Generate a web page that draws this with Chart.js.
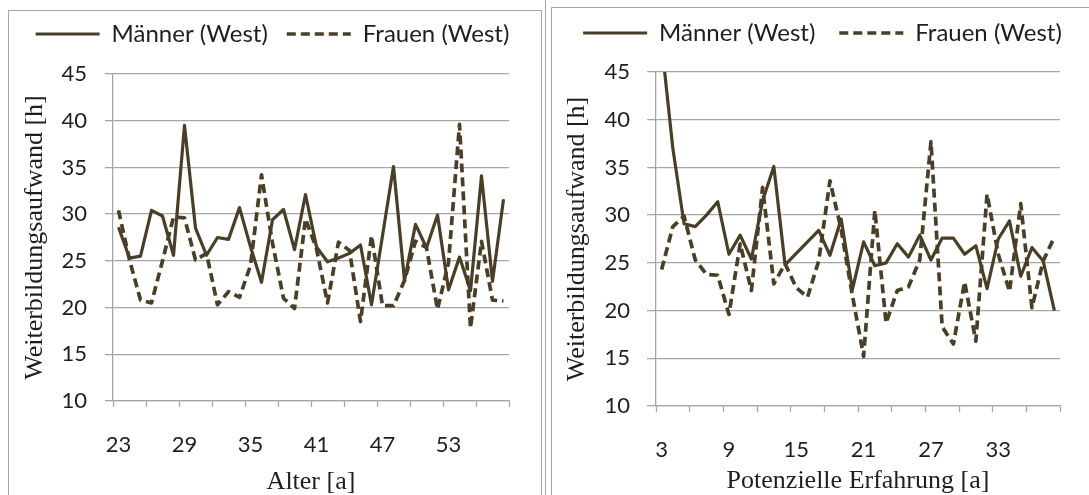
<!DOCTYPE html>
<html>
<head>
<meta charset="utf-8">
<script src="https://cdn.jsdelivr.net/npm/chart.js@4.4.1/dist/chart.umd.min.js"></script>
<style>
html, body { margin:0; padding:0; background:#fff; }
body { width:1089px; height:495px; position:relative; overflow:hidden; }
.frame { position:absolute; border:1px solid #a6a6a6; box-sizing:border-box; }
.panel { position:absolute; top:0; height:495px; }
</style>
</head>
<body>

<div class="frame" style="left:8px;top:10px;width:534px;height:520px"></div>
<div class="frame" style="left:545px;top:-5px;width:1px;height:520px;border-width:0 0 0 1px"></div>
<div class="frame" style="left:551px;top:7px;width:600px;height:520px"></div>

<div class="panel" style="left:0;width:545px"><canvas id="ageChart"></canvas></div>
<div class="panel" style="left:545px;width:544px"><canvas id="expChart"></canvas></div>

<script>
/* =====================================
   DATA
===================================== */

const ageLabels = [23,24,25,26,27,28,29,30,31,32,33,34,35,36,37,38,39,40,
                   41,42,43,44,45,46,47,48,49,50,51,52,53,54,55,56,57,58];

const ageMen = [28.6,25.3,25.5,30.4,29.8,25.6,39.5,28.5,25.6,27.5,27.3,30.7,
                26.5,22.7,29.4,30.5,26.2,32.1,26.5,24.9,25.3,25.8,26.7,20.3,
                27.7,35.1,22.9,28.9,26.4,29.9,21.9,25.4,21.8,34.1,22.8,31.6];

const ageWomen = [30.4,25.1,20.8,20.5,25.0,29.7,29.6,25.1,25.8,20.3,21.7,21.1,
                  24.5,34.2,26.9,21.0,19.9,29.5,26.3,20.5,27.0,26.1,18.5,27.7,
                  20.2,20.2,22.9,27.1,26.4,19.8,24.8,39.6,17.8,27.1,20.8,20.7];

const expLabels = [3,4,5,6,7,8,9,10,11,12,13,14,15,16,17,18,19,20,
                   21,22,23,24,25,26,27,28,29,30,31,32,33,34,35,36,37,38];

const expMen = [48.0,37.0,29.1,28.8,30.0,31.4,25.9,27.9,25.4,31.5,35.1,24.8,
                26.0,27.2,28.4,25.8,29.6,22.2,27.2,24.7,25.0,27.0,25.6,27.9,
                25.3,27.6,27.6,25.9,26.8,22.3,27.5,29.4,23.6,26.6,25.2,20.0];

const expWomen = [24.3,28.8,29.9,25.3,23.8,23.7,19.6,27.0,22.1,32.9,22.8,24.9,
                  22.4,21.4,25.2,33.6,28.5,21.6,15.2,30.5,18.7,22.1,22.5,25.3,
                  37.7,18.3,16.5,23.0,16.8,32.2,25.9,22.0,31.2,20.3,25.2,27.7];

const yTicks = [10,15,20,25,30,35,40,45];

/* =====================================
   STYLE
===================================== */

const LINE_COLOR = "#4a3f26";
const GRID_COLOR = "#a6a6a6";
const TEXT_COLOR = "#1e1e1e";

/* fixes the legend height so the plot top lands where we want */
const legendHeightPlugin = {
    id: "legendHeight",
    beforeLayout(chart, args, opts){
        const lg = chart.legend;
        if(!lg || lg._fixed) return;
        const fit = lg.fit;
        lg.fit = function(){
            fit.call(this);
            this.height = opts.height;
        };
        lg._fixed = true;
    }
};

/* legend lines take width and dash from the dataset, not from its points */
function legendLabels(chart){
    const items = Chart.defaults.plugins.legend.labels.generateLabels(chart);
    items.forEach(item => {
        const ds = chart.data.datasets[item.datasetIndex];
        item.lineWidth = ds.borderWidth;
        item.lineDash = ds.borderDash || [];
        item.strokeStyle = ds.borderColor;
        item.fillStyle = ds.borderColor;
    });
    return items;
}

function buildChart(id, labels, men, women, cfg){

    const ctx = document.getElementById(id);

    return new Chart(ctx, {

        type: "line",

        data: {
            labels: labels,
            datasets: [
                {
                    label: "Männer (West)",
                    data: men,
                    borderColor: LINE_COLOR,
                    backgroundColor: LINE_COLOR,
                    borderWidth: 3.2,
                    pointRadius: 0,
                    tension: 0,
                    borderJoinStyle: "round"
                },
                {
                    label: "Frauen (West)",
                    data: women,
                    borderColor: LINE_COLOR,
                    backgroundColor: LINE_COLOR,
                    borderWidth: 3.7,
                    borderDash: [9,5],
                    pointRadius: 0,
                    tension: 0,
                    borderJoinStyle: "round"
                }
            ]
        },

        plugins: [legendHeightPlugin],

        options: {

            responsive: true,
            maintainAspectRatio: false,
            animation: false,

            layout: {
                padding: { top: cfg.padTop, right: 0, left: cfg.padLeft, bottom: 0 }
            },

            plugins: {
                legendHeight: { height: cfg.plotTop - cfg.padTop },
                legend: {
                    position: "top",
                    labels: {
                        usePointStyle: true,
                        pointStyle: "line",
                        pointStyleWidth: 64,
                        padding: cfg.legendPad,
                        color: TEXT_COLOR,
                        font: { family: "Lato", size: 24 },
                        generateLabels: legendLabels
                    }
                },
                tooltip: { enabled: false }
            },

            scales: {

                x: {
                    type: "category",
                    offset: true,
                    afterFit(scale){ scale.height = cfg.xHeight; },
                    grid: {
                        display: true,
                        drawOnChartArea: false,
                        offset: true,
                        tickLength: 6,
                        tickWidth: 1.3,
                        tickColor: c =>
                            (c.index === undefined || c.index % 3 === 0)
                                ? GRID_COLOR : "rgba(0,0,0,0)"
                    },
                    border: { color: GRID_COLOR, width: 1.3 },
                    ticks: {
                        autoSkip: false,
                        maxRotation: 0,
                        padding: 25,
                        color: TEXT_COLOR,
                        font: { family: "Lato", size: 22 },
                        callback: function(v, i){
                            return i % 6 === 0 ? this.getLabelForValue(v) : "";
                        }
                    },
                    title: {
                        display: true,
                        text: cfg.xTitle,
                        color: TEXT_COLOR,
                        font: { family: "Liberation Serif", size: 26, lineHeight: 1 },
                        padding: { top: 0, bottom: cfg.xTitlePad }
                    }
                },

                y: {
                    min: yTicks[0],
                    max: yTicks[yTicks.length - 1],
                    afterFit(scale){ scale.width = cfg.yWidth; },
                    afterBuildTicks(scale){
                        scale.ticks = yTicks.map(v => ({ value: v }));
                    },
                    grid: {
                        color: GRID_COLOR,
                        lineWidth: 1.3,
                        tickLength: cfg.yTickLen,
                        tickColor: GRID_COLOR
                    },
                    border: { color: GRID_COLOR, width: 1.3 },
                    ticks: {
                        padding: cfg.yLabelPad,
                        color: TEXT_COLOR,
                        font: { family: "Lato", size: 22 }
                    },
                    title: {
                        display: true,
                        text: "Weiterbildungsaufwand [h]",
                        color: TEXT_COLOR,
                        font: { family: "Liberation Serif", size: 26, lineHeight: 1 },
                        padding: { top: cfg.yTitlePad, bottom: 0 }
                    }
                },

                /* empty spacer on the right, keeps the legend centred on the panel */
                spacer: {
                    position: "right",
                    afterFit(scale){ scale.width = cfg.rightGap; },
                    grid: { display: false },
                    border: { display: false },
                    ticks: { display: false }
                }
            }
        }
    });
}

/* =====================================
   CHARTS
===================================== */

buildChart("ageChart", ageLabels, ageMen, ageWomen, {
    padTop: 3, padLeft: 0, rightGap: 36, plotTop: 74, xHeight: 94, legendPad: 19,
    yWidth: 113, yTickLen: 8, yLabelPad: 18, yTitlePad: 22,
    xTitle: "Alter [a]", xTitlePad: 0
});

buildChart("expChart", expLabels, expMen, expWomen, {
    padTop: -3, padLeft: 11, rightGap: 29, plotTop: 72, xHeight: 89, legendPad: 24,
    yWidth: 100, yTickLen: 9, yLabelPad: 17, yTitlePad: 8,
    xTitle: "Potenzielle Erfahrung [a]", xTitlePad: 1
});
</script>
</body>
</html>
